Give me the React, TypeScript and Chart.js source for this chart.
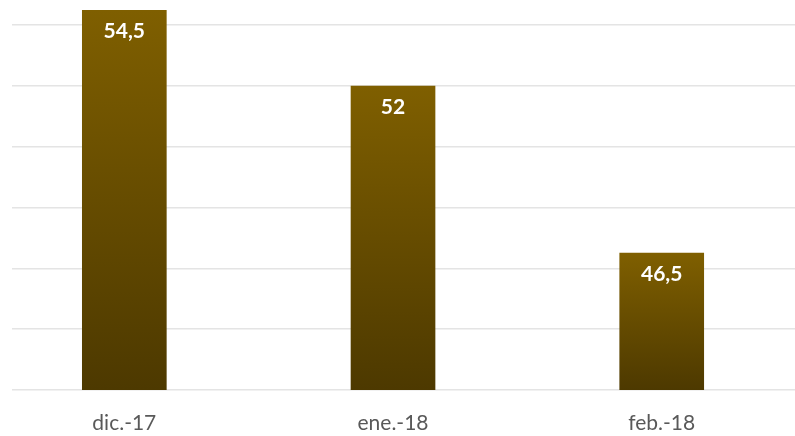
import React, { useEffect, useRef } from "react";
import { Chart, registerables } from "chart.js";

Chart.register(...registerables);

const categories = ["dic.-17", "ene.-18", "feb.-18"];
const values = [54.5, 52, 46.5];
const valueLabels = ["54,5", "52", "46,5"];
const yTicks = [42, 44, 46, 48, 50, 52, 54];
const yMin = 42;
const yMax = 54.5;

const valueLabelPlugin = {
  id: "valueLabels",
  afterDatasetsDraw(chart: any) {
    const { ctx } = chart;
    const meta = chart.getDatasetMeta(0);
    ctx.save();
    ctx.fillStyle = "#ffffff";
    ctx.font = "bold 21px Lato, 'Open Sans', sans-serif";
    ctx.textAlign = "center";
    ctx.textBaseline = "middle";
    meta.data.forEach((bar: any, i: number) => {
      ctx.fillText(valueLabels[i], bar.x, bar.y + 21);
    });
    ctx.restore();
  },
};

export default function App() {
  const ref = useRef<HTMLCanvasElement>(null);
  useEffect(() => {
    document.body.style.margin = "0";
    const canvas = ref.current!;
    const chart = new Chart(canvas, {
      type: "bar",
      data: {
        labels: categories,
        datasets: [
          {
            data: values.map((v, i) => ({ x: i, y: v })),
            barThickness: 84,
            backgroundColor: (c: any) => {
              const ys = c.chart.scales && c.chart.scales.y;
              const { ctx } = c.chart;
              if (!ys || c.raw == null) return "#6a4f00";
              const top = ys.getPixelForValue(c.raw.y);
              const bottom = ys.getPixelForValue(yMin);
              if (!isFinite(top) || !isFinite(bottom) || top === bottom) return "#6a4f00";
              const g = ctx.createLinearGradient(0, top, 0, bottom);
              g.addColorStop(0, "#7f5f00");
              g.addColorStop(1, "#4d3900");
              return g;
            },
            borderWidth: 0,
          },
        ],
      },
      options: {
        animation: false,
        responsive: false,
        maintainAspectRatio: false,
        layout: { padding: { left: 12, right: 0, top: 10, bottom: 2.6 } },
        plugins: { legend: { display: false }, tooltip: { enabled: false } },
        scales: {
          x: {
            type: "linear",
            offset: false,
            min: -0.418,
            max: 2.496,
            grid: { display: false, drawTicks: false, offset: false },
            border: { display: false },
            afterBuildTicks: (scale: any) => {
              scale.ticks = categories.map((_, i) => ({ value: i }));
            },
            afterFit: (scale: any) => {
              scale.height = 43.4;
            },
            ticks: {
              padding: 21,
              color: "#595959",
              font: { family: "Lato, 'Open Sans', sans-serif", size: 21 },
              callback: (v: any) => categories[v as number] ?? "",
              maxRotation: 0,
              autoSkip: false,
            },
          },
          y: {
            min: yMin,
            max: yMax,
            afterBuildTicks: (scale: any) => {
              scale.ticks = yTicks.map((v) => ({ value: v }));
            },
            grid: { color: "#e4e4e4", lineWidth: 1.5, drawTicks: false },
            border: { display: false },
            ticks: { display: false },
          },
        },
      },
      plugins: [valueLabelPlugin],
    } as any);
    return () => chart.destroy();
  }, []);
  return <canvas ref={ref} width={795} height={436} style={{ display: "block" }} />;
}
